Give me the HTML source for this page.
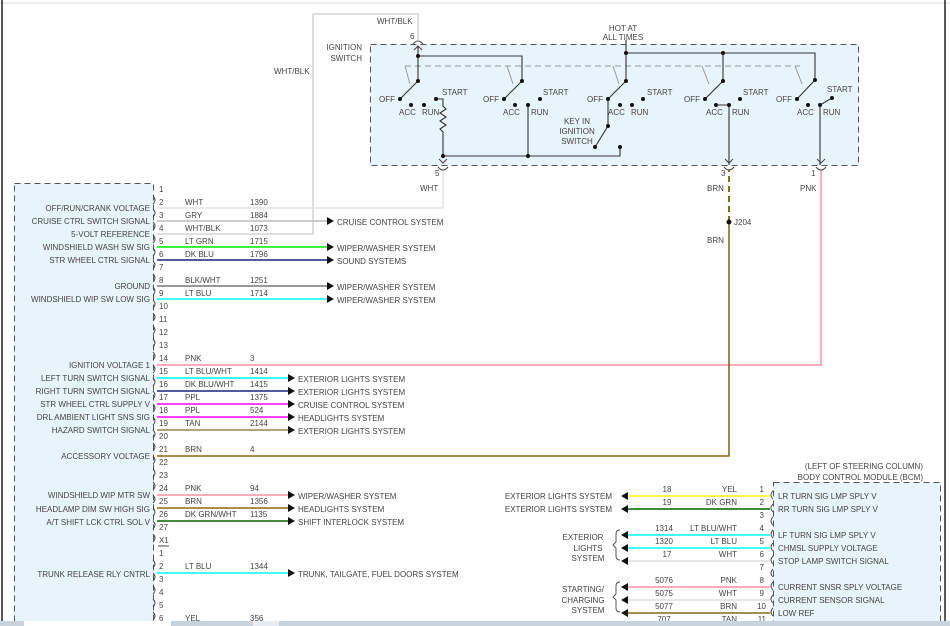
<!DOCTYPE html>
<html><head><meta charset="utf-8"><style>
html,body{margin:0;padding:0;background:#fff;}
svg{display:block;font-family:"Liberation Sans",sans-serif;}
text{font-size:8px;fill:#444;}
.r{text-anchor:end}.m{text-anchor:middle}
</style></head><body>
<svg width="950" height="626" viewBox="0 0 950 626" xmlns="http://www.w3.org/2000/svg">
<rect x="0" y="0" width="950" height="626" fill="#fff"/>
<line x1="0" y1="3" x2="950" y2="3" stroke="#ddd"/>
<line x1="2" y1="0" x2="2" y2="626" stroke="#222" stroke-width="1.5"/>
<line x1="945" y1="0" x2="945" y2="626" stroke="#222" stroke-width="1.5"/>

<rect x="14.5" y="183.5" width="139" height="450" fill="#e8f4fb" stroke="#555" stroke-dasharray="6,4"/>
<rect x="370.5" y="44.5" width="488" height="121" fill="#e8f4fb" stroke="#555" stroke-dasharray="6,4"/>
<rect x="773.5" y="482.5" width="167" height="150" fill="#e8f4fb" stroke="#555" stroke-dasharray="6,4"/>

<polyline points="157,234 313,234 313,14 418,14 418,40" fill="none" stroke="#ccc" stroke-width="1.3"/>
<polyline points="157,208 443,208 443,170" fill="none" stroke="#ddd" stroke-width="1.3"/>
<polyline points="157,365 821,365 821,170" fill="none" stroke="#ff8fa3" stroke-width="1.5"/>
<polyline points="157,456 729,456 729,222" fill="none" stroke="#8b6914" stroke-width="1.6"/>
<line x1="729" y1="222" x2="729" y2="170" stroke="#8b6914" stroke-width="2" stroke-dasharray="6,4"/>
<circle cx="729" cy="222" r="2.5" fill="#111"/>
<text x="734" y="225">J204</text>
<text x="707" y="191">BRN</text><text x="707" y="243">BRN</text>
<text x="800" y="191">PNK</text>
<text x="420" y="191">WHT</text>
<text x="377" y="24">WHT/BLK</text>
<text x="274" y="74">WHT/BLK</text>
<text x="362" y="50" class="r">IGNITION</text><text x="362" y="61" class="r">SWITCH</text>
<text x="623" y="31" class="m">HOT AT</text><text x="623" y="40" class="m">ALL TIMES</text>
<text x="410" y="39">6</text><text x="435" y="176">5</text><text x="721" y="176">3</text><text x="811" y="176">1</text>
<g fill="none" stroke="#444" stroke-width="1">
<path d="M413,44 q5,-6 10,0"/><path d="M438,167 q5,6 10,0"/><path d="M724,167 q5,6 10,0"/><path d="M816,167 q5,6 10,0"/>
<path d="M414,50 l4,-4 l4,4"/><path d="M439,159 l4,4 l4,-4"/><path d="M725,159 l4,4 l4,-4"/><path d="M817,159 l4,4 l4,-4"/>
</g>

<g stroke="#999" fill="none" stroke-dasharray="6,4"><line x1="405" y1="66" x2="800" y2="66"/></g>
<g stroke="#999" fill="none"><line x1="405" y1="66" x2="410" y2="84"/><line x1="507" y1="66" x2="513" y2="84"/><line x1="613" y1="66" x2="619" y2="84"/><line x1="702" y1="66" x2="709" y2="84"/><line x1="795" y1="66" x2="802" y2="84"/></g>
<g stroke="#333" fill="none" stroke-width="1.1">
<polyline points="418,46 418,56 522,56 522,81"/><line x1="418" y1="56" x2="418" y2="81"/>
<polyline points="626,40 626,53 815,53 815,80"/><line x1="626" y1="53" x2="626" y2="81"/><line x1="723" y1="53" x2="723" y2="81"/>
<line x1="418" y1="81" x2="400" y2="99"/><line x1="522" y1="81" x2="504" y2="99"/><line x1="626" y1="81" x2="608" y2="99"/><line x1="723" y1="81" x2="705" y2="99"/><line x1="815" y1="80" x2="797" y2="99"/>
<polyline points="436,99 443,99 443,106 446,109 440,113 446,117 440,121 446,125 440,129 443,132 443,156 620,156 620,147"/>
<line x1="528" y1="105" x2="528" y2="156"/>
<line x1="608" y1="99" x2="608" y2="126"/><line x1="608" y1="126" x2="595" y2="147"/>
<polyline points="716,105 729,105 729,165"/>
<line x1="820" y1="105" x2="832" y2="98"/><line x1="820" y1="105" x2="820" y2="165"/>
</g>
<g fill="#111">
<circle cx="418" cy="56" r="2"/><circle cx="626" cy="53" r="2"/><circle cx="723" cy="53" r="2"/>
<circle cx="418" cy="81" r="2"/><circle cx="522" cy="81" r="2"/><circle cx="626" cy="81" r="2"/><circle cx="723" cy="81" r="2"/><circle cx="815" cy="80" r="2"/>
<circle cx="400" cy="99" r="2"/><circle cx="411" cy="105" r="2"/><circle cx="424" cy="105" r="2"/><circle cx="436" cy="99" r="2"/>
<circle cx="504" cy="99" r="2"/><circle cx="515" cy="105" r="2"/><circle cx="528" cy="105" r="2"/><circle cx="540" cy="99" r="2"/>
<circle cx="608" cy="99" r="2"/><circle cx="620" cy="105" r="2"/><circle cx="632" cy="105" r="2"/><circle cx="643" cy="99" r="2"/>
<circle cx="705" cy="99" r="2"/><circle cx="716" cy="105" r="2"/><circle cx="729" cy="105" r="2"/><circle cx="740" cy="99" r="2"/>
<circle cx="797" cy="99" r="2"/><circle cx="808" cy="105" r="2"/><circle cx="820" cy="105" r="2"/><circle cx="832" cy="98" r="2"/>
<circle cx="443" cy="156" r="2"/><circle cx="528" cy="156" r="2"/><circle cx="620" cy="147" r="2"/><circle cx="608" cy="126" r="2"/><circle cx="595" cy="147" r="2"/>
</g>
<g>
<text x="379" y="102">OFF</text><text x="399" y="115">ACC</text><text x="422" y="115">RUN</text><text x="442" y="95">START</text>
<text x="483" y="102">OFF</text><text x="503" y="115">ACC</text><text x="531" y="115">RUN</text><text x="543" y="95">START</text>
<text x="587" y="102">OFF</text><text x="608" y="115">ACC</text><text x="631" y="115">RUN</text><text x="647" y="95">START</text>
<text x="684" y="102">OFF</text><text x="706" y="115">ACC</text><text x="732" y="115">RUN</text><text x="743" y="95">START</text>
<text x="776" y="102">OFF</text><text x="797" y="115">ACC</text><text x="823" y="115">RUN</text><text x="827" y="92">START</text>
<text x="577" y="124" class="m">KEY IN</text><text x="577" y="134" class="m">IGNITION</text><text x="577" y="144" class="m">SWITCH</text>
</g>

<g>
<text x="159" y="192">1</text><text x="159" y="205">2</text><text x="159" y="218">3</text><text x="159" y="231">4</text><text x="159" y="244">5</text><text x="159" y="257">6</text><text x="159" y="270">7</text><text x="159" y="283">8</text><text x="159" y="296">9</text><text x="159" y="309">10</text><text x="159" y="322">11</text><text x="159" y="335">12</text><text x="159" y="348">13</text><text x="159" y="361">14</text><text x="159" y="374">15</text><text x="159" y="387">16</text><text x="159" y="400">17</text><text x="159" y="413">18</text><text x="159" y="426">19</text><text x="159" y="439">20</text><text x="159" y="452">21</text><text x="159" y="465">22</text><text x="159" y="478">23</text><text x="159" y="491">24</text><text x="159" y="504">25</text><text x="159" y="517">26</text><text x="159" y="530">27</text>
<text x="159" y="543">X1</text><line x1="158" y1="546" x2="169" y2="546" stroke="#444"/>
<text x="159" y="556">1</text><text x="159" y="569">2</text><text x="159" y="582">3</text><text x="159" y="595">4</text><text x="159" y="608">5</text><text x="159" y="621">6</text>
</g>
<g fill="none" stroke="#444" stroke-width="0.9">
<path d="M153,196 q4,4 0,8 M153,209 q4,4 0,8 M153,222 q4,4 0,8 M153,235 q4,4 0,8 M153,248 q4,4 0,8 M153,261 q4,4 0,8 M153,274 q4,4 0,8 M153,287 q4,4 0,8 M153,300 q4,4 0,8 M153,313 q4,4 0,8 M153,326 q4,4 0,8 M153,339 q4,4 0,8 M153,352 q4,4 0,8 M153,365 q4,4 0,8 M153,378 q4,4 0,8 M153,391 q4,4 0,8 M153,404 q4,4 0,8 M153,417 q4,4 0,8 M153,430 q4,4 0,8 M153,443 q4,4 0,8 M153,456 q4,4 0,8 M153,469 q4,4 0,8 M153,482 q4,4 0,8 M153,495 q4,4 0,8 M153,508 q4,4 0,8 M153,521 q4,4 0,8 M153,534 q4,4 0,8 M153,560 q4,4 0,8 M153,573 q4,4 0,8 M153,586 q4,4 0,8 M153,599 q4,4 0,8 M153,612 q4,4 0,8"/>
</g>

<g stroke-width="1.6" fill="none">
<line x1="157" y1="221" x2="327" y2="221" stroke="#bbb"/>
<line x1="157" y1="247" x2="327" y2="247" stroke="#00ee00"/>
<line x1="157" y1="260" x2="327" y2="260" stroke="#1a237e"/>
<line x1="157" y1="286" x2="327" y2="286" stroke="#777"/>
<line x1="157" y1="299" x2="327" y2="299" stroke="#00ffff"/>
<line x1="157" y1="378" x2="288" y2="378" stroke="#00ffff"/>
<line x1="157" y1="391" x2="288" y2="391" stroke="#1a237e"/>
<line x1="157" y1="404" x2="288" y2="404" stroke="#ff00ff"/>
<line x1="157" y1="417" x2="288" y2="417" stroke="#ff00ff"/>
<line x1="157" y1="430" x2="288" y2="430" stroke="#a08050"/>
<line x1="157" y1="495" x2="288" y2="495" stroke="#ff8fa3"/>
<line x1="157" y1="508" x2="288" y2="508" stroke="#8b6914"/>
<line x1="157" y1="521" x2="288" y2="521" stroke="#006400"/>
<line x1="157" y1="573" x2="288" y2="573" stroke="#00ffff"/>
</g>
<g fill="#111">
<path d="M327,217 l7,4 l-7,4z"/><path d="M327,243 l7,4 l-7,4z"/><path d="M327,256 l7,4 l-7,4z"/><path d="M327,282 l7,4 l-7,4z"/><path d="M327,295 l7,4 l-7,4z"/>
<path d="M288,374 l7,4 l-7,4z"/><path d="M288,387 l7,4 l-7,4z"/><path d="M288,400 l7,4 l-7,4z"/><path d="M288,413 l7,4 l-7,4z"/><path d="M288,426 l7,4 l-7,4z"/>
<path d="M288,491 l7,4 l-7,4z"/><path d="M288,504 l7,4 l-7,4z"/><path d="M288,517 l7,4 l-7,4z"/><path d="M288,569 l7,4 l-7,4z"/>
</g>
<g>
<text x="337" y="225">CRUISE CONTROL SYSTEM</text><text x="337" y="251">WIPER/WASHER SYSTEM</text><text x="337" y="264">SOUND SYSTEMS</text><text x="337" y="290">WIPER/WASHER SYSTEM</text><text x="337" y="303">WIPER/WASHER SYSTEM</text>
<text x="298" y="382">EXTERIOR LIGHTS SYSTEM</text><text x="298" y="395">EXTERIOR LIGHTS SYSTEM</text><text x="298" y="408">CRUISE CONTROL SYSTEM</text><text x="298" y="421">HEADLIGHTS SYSTEM</text><text x="298" y="434">EXTERIOR LIGHTS SYSTEM</text>
<text x="298" y="499">WIPER/WASHER SYSTEM</text><text x="298" y="512">HEADLIGHTS SYSTEM</text><text x="298" y="525">SHIFT INTERLOCK SYSTEM</text><text x="298" y="577">TRUNK, TAILGATE, FUEL DOORS SYSTEM</text>
</g>
<g>
<text x="185" y="205">WHT</text><text x="250" y="205">1390</text>
<text x="185" y="218">GRY</text><text x="250" y="218">1884</text>
<text x="185" y="231">WHT/BLK</text><text x="250" y="231">1073</text>
<text x="185" y="244">LT GRN</text><text x="250" y="244">1715</text>
<text x="185" y="257">DK BLU</text><text x="250" y="257">1796</text>
<text x="185" y="283">BLK/WHT</text><text x="250" y="283">1251</text>
<text x="185" y="296">LT BLU</text><text x="250" y="296">1714</text>
<text x="185" y="361">PNK</text><text x="250" y="361">3</text>
<text x="185" y="374">LT BLU/WHT</text><text x="250" y="374">1414</text>
<text x="185" y="387">DK BLU/WHT</text><text x="250" y="387">1415</text>
<text x="185" y="400">PPL</text><text x="250" y="400">1375</text>
<text x="185" y="413">PPL</text><text x="250" y="413">524</text>
<text x="185" y="426">TAN</text><text x="250" y="426">2144</text>
<text x="185" y="452">BRN</text><text x="250" y="452">4</text>
<text x="185" y="491">PNK</text><text x="250" y="491">94</text>
<text x="185" y="504">BRN</text><text x="250" y="504">1356</text>
<text x="185" y="517">DK GRN/WHT</text><text x="250" y="517">1135</text>
<text x="185" y="569">LT BLU</text><text x="250" y="569">1344</text>
<text x="185" y="621">YEL</text><text x="250" y="621">356</text>
</g>
<g>
<text x="150" y="211" class="r">OFF/RUN/CRANK VOLTAGE</text>
<text x="150" y="224" class="r">CRUISE CTRL SWITCH SIGNAL</text>
<text x="150" y="237" class="r">5-VOLT REFERENCE</text>
<text x="150" y="250" class="r">WINDSHIELD WASH SW SIG</text>
<text x="150" y="263" class="r">STR WHEEL CTRL SIGNAL</text>
<text x="150" y="289" class="r">GROUND</text>
<text x="150" y="302" class="r">WINDSHIELD WIP SW LOW SIG</text>
<text x="150" y="368" class="r">IGNITION VOLTAGE 1</text>
<text x="150" y="381" class="r">LEFT TURN SWITCH SIGNAL</text>
<text x="150" y="394" class="r">RIGHT TURN SWITCH SIGNAL</text>
<text x="150" y="407" class="r">STR WHEEL CTRL SUPPLY V</text>
<text x="150" y="420" class="r">DRL AMBIENT LIGHT SNS SIG</text>
<text x="150" y="433" class="r">HAZARD SWITCH SIGNAL</text>
<text x="150" y="459" class="r">ACCESSORY VOLTAGE</text>
<text x="150" y="498" class="r">WINDSHIELD WIP MTR SW</text>
<text x="150" y="512" class="r">HEADLAMP DIM SW HIGH SIG</text>
<text x="150" y="525" class="r">A/T SHIFT LCK CTRL SOL V</text>
<text x="150" y="577" class="r">TRUNK RELEASE RLY CNTRL</text>
</g>

<text x="923" y="469" class="r">(LEFT OF STEERING COLUMN)</text>
<text x="923" y="480" class="r">BODY CONTROL MODULE (BCM)</text>
<g stroke-width="1.6" fill="none">
<line x1="627" y1="496" x2="770" y2="496" stroke="#f5f500"/>
<line x1="627" y1="509" x2="770" y2="509" stroke="#006400"/>
<line x1="627" y1="535" x2="770" y2="535" stroke="#00ffff"/>
<line x1="627" y1="548" x2="770" y2="548" stroke="#00ffff"/>
<line x1="627" y1="561" x2="770" y2="561" stroke="#ddd"/>
<line x1="627" y1="587" x2="770" y2="587" stroke="#ff8fa3"/>
<line x1="627" y1="600" x2="770" y2="600" stroke="#ddd"/>
<line x1="627" y1="613" x2="770" y2="613" stroke="#8b6914"/>
</g>
<g fill="#111">
<path d="M628,492 l-7,4 l7,4z"/><path d="M628,505 l-7,4 l7,4z"/><path d="M628,531 l-7,4 l7,4z"/><path d="M628,544 l-7,4 l7,4z"/><path d="M628,557 l-7,4 l7,4z"/><path d="M628,583 l-7,4 l7,4z"/><path d="M628,596 l-7,4 l7,4z"/><path d="M628,609 l-7,4 l7,4z"/>
</g>
<g fill="none" stroke="#444" stroke-width="0.9">
<path d="M773,491 q-4,4 0,8 M773,504 q-4,4 0,8 M773,517 q-4,4 0,8 M773,530 q-4,4 0,8 M773,543 q-4,4 0,8 M773,556 q-4,4 0,8 M773,569 q-4,4 0,8 M773,582 q-4,4 0,8 M773,595 q-4,4 0,8 M773,608 q-4,4 0,8 M773,621 q-4,4 0,8"/>
<path d="M620,530 q-4,0 -4,4 v8 l-3,3 l3,3 v8 q0,4 4,4"/>
<path d="M620,582 q-4,0 -4,4 v8 l-3,3 l3,3 v8 q0,4 4,4"/>
</g>
<g>
<text x="612" y="499" class="r">EXTERIOR LIGHTS SYSTEM</text><text x="612" y="512" class="r">EXTERIOR LIGHTS SYSTEM</text>
<text x="583" y="540" class="m">EXTERIOR</text><text x="588" y="551" class="m">LIGHTS</text><text x="588" y="561" class="m">SYSTEM</text>
<text x="583" y="592" class="m">STARTING/</text><text x="583" y="603" class="m">CHARGING</text><text x="588" y="613" class="m">SYSTEM</text>
<text x="667" y="492" class="m">18</text><text x="737" y="492" class="r">YEL</text><text x="764" y="492" class="r">1</text>
<text x="667" y="505" class="m">19</text><text x="737" y="505" class="r">DK GRN</text><text x="764" y="505" class="r">2</text>
<text x="764" y="518" class="r">3</text>
<text x="664" y="531" class="m">1314</text><text x="737" y="531" class="r">LT BLU/WHT</text><text x="764" y="531" class="r">4</text>
<text x="664" y="544" class="m">1320</text><text x="737" y="544" class="r">LT BLU</text><text x="764" y="544" class="r">5</text>
<text x="667" y="557" class="m">17</text><text x="737" y="557" class="r">WHT</text><text x="764" y="557" class="r">6</text>
<text x="764" y="570" class="r">7</text>
<text x="664" y="583" class="m">5076</text><text x="737" y="583" class="r">PNK</text><text x="764" y="583" class="r">8</text>
<text x="664" y="596" class="m">5075</text><text x="737" y="596" class="r">WHT</text><text x="764" y="596" class="r">9</text>
<text x="664" y="609" class="m">5077</text><text x="737" y="609" class="r">BRN</text><text x="766" y="609" class="r">10</text>
<text x="664" y="622" class="m">707</text><text x="737" y="622" class="r">TAN</text><text x="766" y="622" class="r">11</text>
<text x="778" y="499">LR TURN SIG LMP SPLY V</text><text x="778" y="512">RR TURN SIG LMP SPLY V</text>
<text x="778" y="538">LF TURN SIG LMP SPLY V</text><text x="778" y="551">CHMSL SUPPLY VOLTAGE</text><text x="778" y="564">STOP LAMP SWITCH SIGNAL</text>
<text x="778" y="590">CURRENT SNSR SPLY VOLTAGE</text><text x="778" y="603">CURRENT SENSOR SIGNAL</text><text x="778" y="616">LOW REF</text>
</g>

<rect x="0" y="621" width="950" height="5" fill="#c9d3dc"/>
<rect x="24" y="621" width="147" height="5" fill="#fff"/>
<rect x="253" y="621" width="26" height="5" fill="#e6ecf2"/>
</svg>
</body></html>
